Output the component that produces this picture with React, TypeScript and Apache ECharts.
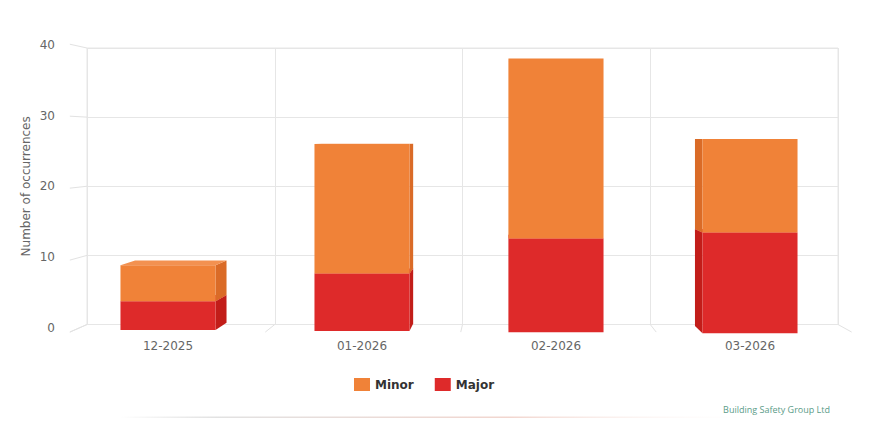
import React, { useEffect, useRef } from 'react';
import * as echarts from 'echarts';

const categories = ['12-2025', '01-2026', '02-2026', '03-2026'];
const minorValues = [5, 18, 25, 13];
const majorValues = [4, 8, 13, 14];
const yTicks = [0, 10, 20, 30, 40];

const MINOR = { front: '#f08238', side: '#da6b27', top: '#f39150' };
const MAJOR = { front: '#de2a2a', side: '#c21d19', top: '#e64444' };

const VP = [505, 140];
const K_BAR = 0.038;
const K_FRAME = 0.041;
const TILT = 0.0057;
const FONT = 'DejaVu Sans';

function barRenderer(colors: any) {
  return (params: any, api: any) => {
    const i = api.value(0);
    const lo = api.value(1);
    const hi = api.value(2);
    const base = api.coord([0, 0]);
    const p0 = api.coord([i, lo]);
    const p1 = api.coord([i, hi]);
    const band = api.size([1, 0])[0];
    const w = band * 0.49;
    const shift = (p0[0] - base[0]) * TILT;
    const L = p0[0] - w / 2;
    const R = p0[0] + w / 2;
    const yb = p0[1] + shift;
    const yt = p1[1] + shift;
    const back = (x: number, y: number) => [x - K_BAR * (x - VP[0]), y - K_BAR * (y - VP[1])];
    const children: any[] = [];
    if (R < VP[0]) {
      children.push({
        type: 'polygon',
        shape: { points: [[R, yt], back(R, yt), back(R, yb), [R, yb]] },
        style: { fill: colors.side },
      });
    } else if (L > VP[0] + 2) {
      children.push({
        type: 'polygon',
        shape: { points: [[L, yt], back(L, yt), back(L, yb), [L, yb]] },
        style: { fill: colors.side },
      });
    }
    if (yt > VP[1] + 1) {
      children.push({
        type: 'polygon',
        shape: { points: [[L, yt], [R, yt], back(R, yt), back(L, yt)] },
        style: { fill: colors.top },
      });
    }
    children.push({
      type: 'rect',
      shape: { x: L, y: yt, width: w, height: yb - yt },
      style: { fill: colors.front },
    });
    return { type: 'group', children };
  };
}

function tickRenderer(params: any, api: any) {
  const cs = params.coordSys;
  const p = api.coord([0, api.value(1)]);
  const x = cs.x;
  const y = p[1];
  const x2 = x + K_FRAME * (x - VP[0]);
  const y2 = y + K_FRAME * (y - VP[1]);
  return {
    type: 'line',
    shape: { x1: x, y1: y, x2, y2 },
    style: { stroke: '#e2e2e2', lineWidth: 1 },
  };
}

function floorRenderer(params: any, api: any) {
  const cs = params.coordSys;
  const n = categories.length;
  const i = api.value(0);
  const x = cs.x + (i * cs.width) / n;
  const y = cs.y + cs.height;
  const x2 = x + K_FRAME * (x - VP[0]);
  const y2 = y + K_FRAME * (y - VP[1]);
  return {
    type: 'line',
    shape: { x1: x, y1: y, x2, y2 },
    style: { stroke: '#e2e2e2', lineWidth: 1 },
  };
}

export default function App() {
  const ref = useRef<HTMLDivElement>(null);
  useEffect(() => {
    if (!ref.current) return;
    const chart = echarts.init(ref.current, undefined, { renderer: 'svg' });
    const majorData = categories.map((_, i) => [i, 0, majorValues[i]]);
    const minorData = categories.map((_, i) => [i, majorValues[i], majorValues[i] + minorValues[i]]);
    const boundaryData = [...categories.map((_, i) => [i, 0]), [categories.length, 0]];
    const option: any = {
      animation: false,
      backgroundColor: '#ffffff',
      grid: [
        { left: 87, right: 48, top: 48, bottom: 122.5, show: true, borderColor: '#e6e6e6', borderWidth: 1 },
        { left: 70, right: 815, top: 45, bottom: 119.3 },
        { left: 71, right: 39, top: 42, bottom: 117 },
      ],
      xAxis: [
        {
          gridIndex: 0, type: 'category', data: categories, boundaryGap: true,
          axisLine: { show: false }, axisTick: { show: false }, axisLabel: { show: false },
          splitLine: { show: true, lineStyle: { color: '#e6e6e6' } },
        },
        { gridIndex: 1, type: 'value', show: false },
        {
          gridIndex: 2, type: 'category', data: categories, boundaryGap: true,
          axisLine: { show: false }, axisTick: { show: false },
          axisLabel: { color: '#666666', fontSize: 12, fontFamily: FONT, margin: 10 },
          splitLine: { show: false },
        },
      ],
      yAxis: [
        {
          gridIndex: 0, type: 'value', min: 0, max: 40, interval: 10,
          axisLine: { show: false }, axisTick: { show: false }, axisLabel: { show: false },
          splitLine: { show: true, lineStyle: { color: '#e6e6e6' } },
        },
        {
          gridIndex: 1, type: 'value', min: 0, max: 40, interval: 10,
          axisLine: { show: false }, axisTick: { show: false }, splitLine: { show: false },
          axisLabel: { color: '#666666', fontSize: 12, fontFamily: FONT, margin: 15 },
          name: 'Number of occurrences', nameLocation: 'middle', nameGap: 38,
          nameTextStyle: { color: '#666666', fontSize: 12, fontFamily: FONT },
        },
        { gridIndex: 2, type: 'value', min: 0, max: 40, interval: 10, show: false, splitLine: { show: false } },
      ],
      legend: {
        data: ['Minor', 'Major'],
        left: 349, top: 373,
        itemWidth: 16, itemHeight: 13, itemGap: 21, icon: 'rect',
        textStyle: { color: '#333333', fontSize: 12, fontWeight: 'bold', fontFamily: FONT },
        selectedMode: false,
      },
      series: [
        {
          type: 'custom', name: 'frameTicks', xAxisIndex: 0, yAxisIndex: 0, silent: true,
          data: yTicks.map((v) => [0, v]), renderItem: tickRenderer, clip: false,
        },
        {
          type: 'custom', name: 'floorLines', xAxisIndex: 0, yAxisIndex: 0, silent: true,
          data: boundaryData, renderItem: floorRenderer, clip: false,
        },
        {
          type: 'custom', name: 'Major', xAxisIndex: 2, yAxisIndex: 2,
          itemStyle: { color: MAJOR.front },
          encode: { x: 0, y: [1, 2] },
          data: majorData, renderItem: barRenderer(MAJOR), clip: false,
        },
        {
          type: 'custom', name: 'Minor', xAxisIndex: 2, yAxisIndex: 2,
          itemStyle: { color: MINOR.front },
          encode: { x: 0, y: [1, 2] },
          data: minorData, renderItem: barRenderer(MINOR), clip: false,
        },
      ],
      graphic: [
        {
          type: 'rect', left: 120, top: 416.5, silent: true,
          shape: { width: 650, height: 1.5 },
          style: {
            fill: new echarts.graphic.LinearGradient(0, 0, 1, 0, [
              { offset: 0, color: 'rgba(220,220,220,0)' },
              { offset: 0.15, color: '#e2e2e2' },
              { offset: 0.6, color: '#f2d6cf' },
              { offset: 1, color: 'rgba(255,255,255,0)' },
            ]),
          },
        },
        {
          type: 'text', right: 56, top: 405, silent: true,
          style: { text: 'Building Safety Group Ltd', fill: '#5a9c88', fontSize: 9, fontFamily: 'Open Sans' },
        },
      ],
    };
    chart.setOption(option);
    return () => chart.dispose();
  }, []);
  return (
    <div
      ref={ref}
      style={{ position: 'fixed', left: 0, top: 0, width: 886, height: 447, background: '#fff' }}
    />
  );
}
